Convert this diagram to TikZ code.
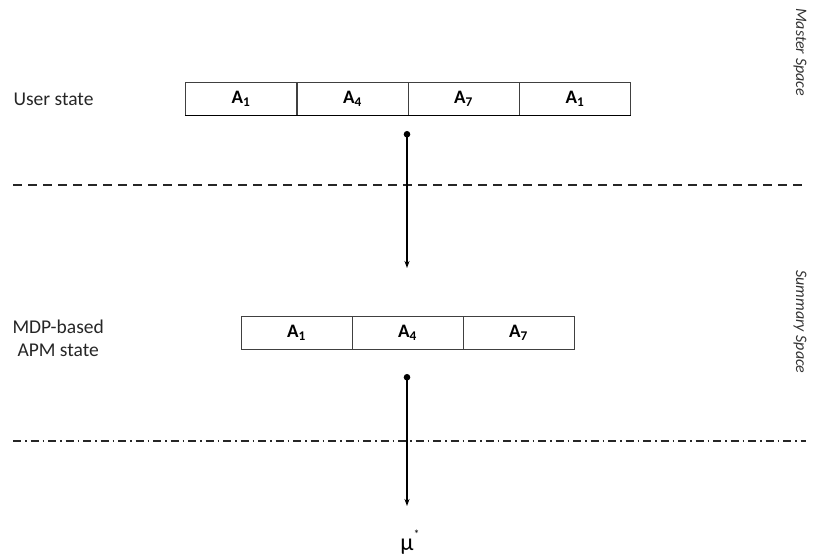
\documentclass[tikz,border=0pt]{standalone}
\usepackage{fontspec}
\setmainfont{Carlito}
\usetikzlibrary{arrows.meta}
\begin{document}
\begin{tikzpicture}[x=1pt,y=-1pt,
  cell/.style={draw=black!75,line width=0.7pt,minimum width=111pt,minimum height=33pt,inner sep=0pt,font=\fontsize{19}{22}\selectfont\bfseries},
  lbl/.style={font=\fontsize{19.5}{23}\selectfont,align=center,text=black!85},
  side/.style={font=\fontsize{16}{19}\selectfont\itshape,text=black!80,rotate=-90},
  conn/.style={line width=1.3pt,{Circle[length=6.5pt]}-{Stealth[length=7pt,width=5pt]}},
  sep/.style={line width=2pt,black!85}]
\useasboundingbox (0,0) rectangle (813,558);
% top box
\node[cell] (u1) at (241,98.5) {A\textsubscript{1}};
\node[cell] (u2) at (352.5,98.5) {A\textsubscript{4}};
\node[cell] (u3) at (463.5,98.5) {A\textsubscript{7}};
\node[cell] (u4) at (575,98.5) {A\textsubscript{1}};
\draw[line width=1.4pt] (u1.south west) -- (u4.south east);
\node[lbl,anchor=west] (us) at (10,99) {User state};
% bottom box
\node[cell] (m1) at (296.5,333) {A\textsubscript{1}};
\node[cell] (m2) at (407.5,333) {A\textsubscript{4}};
\node[cell] (m3) at (518.5,333) {A\textsubscript{7}};
\node[lbl,anchor=west,align=center] (ms) at (9,338) {MDP-based\\APM state};
% separators
\coordinate (d1) at (13,185); \coordinate (d2) at (806,185);
\draw[sep,dash pattern=on 9pt off 6pt] (d1) -- (d2);
\coordinate (e1) at (13,441); \coordinate (e2) at (806,441);
\draw[sep,dash pattern=on 8pt off 4pt on 1.5pt off 4pt] (e1) -- (e2);
% arrows
\coordinate (a1) at (407,131); \coordinate (b1) at (407,268);
\draw[conn] (a1) -- (b1);
\coordinate (a2) at (407,374);
\node[font=\fontsize{24}{28}\selectfont] (mu) at (410,542) {μ\raisebox{1.1ex}{\fontsize{12}{14}\selectfont *}};
\draw[conn] (a2) -- (407,506) coordinate (b2);
% side labels
\node[side] (ms1) at (800,52) {Master Space};
\node[side] (ss1) at (800,322) {Summary Space};
\end{tikzpicture}
\end{document}
